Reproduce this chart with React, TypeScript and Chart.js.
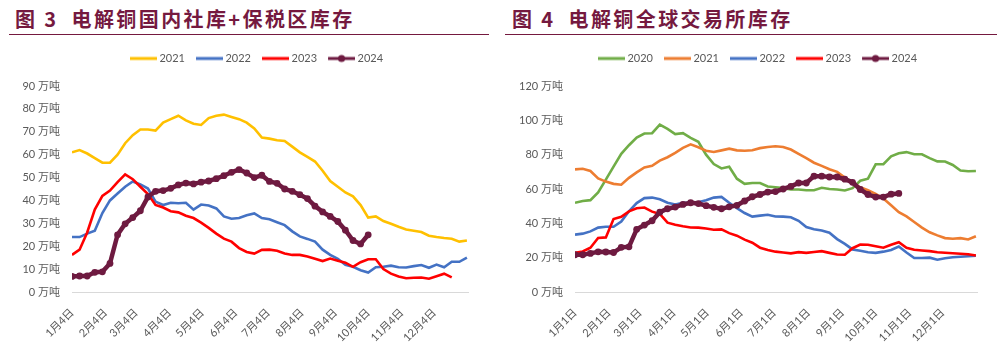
import React, { useEffect, useRef } from 'react';
import { Chart, registerables } from 'chart.js';

Chart.register(...registerables);

const FONT = 'Lato, "Noto Sans CJK SC", sans-serif';
const TITLE_COLOR = '#75193F';
const TICK_COLOR = '#595959';

// sample positions (days from the first day of the axis), weekly
const weekDays = [0, 7, 14, 21, 28, 35, 42, 49, 56, 63, 70, 77, 84, 91, 98, 105, 112, 119, 126, 133, 140, 147, 154, 161, 168, 175, 182, 189, 196, 203, 210, 217, 224, 231, 238, 245, 252, 259, 266, 273, 280, 287, 294, 301, 308, 315, 322, 329, 336, 343, 350, 357, 364];

// month tick positions (days from Jan 4 / Jan 1)
const monthDays = [0, 31, 59, 90, 120, 151, 181, 212, 243, 273, 304, 334];
const domTickLabels = ['1月4日', '2月4日', '3月4日', '4月4日', '5月4日', '6月4日', '7月4日', '8月4日', '9月4日', '10月4日', '11月4日', '12月4日'];
const globalTickLabels = ['1月1日', '2月1日', '3月1日', '4月1日', '5月1日', '6月1日', '7月1日', '8月1日', '9月1日', '10月1日', '11月1日', '12月1日'];

// 图3 电解铜国内社库+保税区库存 (万吨)
const dom2021 = [61, 62, 60.5, 58.5, 56.5, 56.5, 60, 65, 68.5, 71, 71, 70.5, 74, 75.5, 77, 75, 73.5, 73, 76, 77, 77.5, 76.5, 75.5, 74, 71.5, 67.5, 67, 66.3, 66, 63.5, 61, 59, 57, 53, 48.5, 46, 43.5, 41.8, 38, 32.5, 33, 31, 29.8, 28.5, 27.3, 26.8, 26.2, 24.6, 24, 23.6, 23.3, 22, 22.5];
const dom2022 = [24, 24, 25.5, 26.8, 34.5, 40, 43, 46, 48.3, 47, 45.2, 39.5, 38, 39, 38.8, 39, 36, 38.2, 37.8, 36.5, 33, 32, 32.3, 33.5, 34.3, 32.3, 31.8, 30.5, 29.2, 26.5, 24.3, 23.2, 22, 18.5, 16.2, 14.5, 11.9, 11, 9.5, 8.5, 10.8, 11, 11.5, 10.8, 10.7, 11.3, 11.8, 10.6, 12, 10.8, 13.2, 13.2, 15];
const dom2023 = [16.2, 18.5, 26, 36, 42, 44.3, 48, 51.4, 49.3, 46, 42.8, 38, 36.9, 35.3, 34.8, 33.3, 32.3, 30.3, 28, 25.5, 23.3, 22, 19.2, 17.5, 16.8, 18.4, 18.5, 18, 16.8, 16.2, 16.2, 15.5, 14.5, 13.5, 14.6, 13.7, 12.8, 11, 13, 14.3, 14.3, 10, 8, 6.8, 6, 6.2, 6.3, 5.8, 6.9, 8, 6.4];
const dom2024 = [6.8, 7, 7, 8.6, 8.8, 12.5, 25, 29.8, 32.5, 35.5, 41.5, 44, 44.3, 45.3, 46.8, 47.6, 47.2, 48, 48.5, 49.5, 50.8, 52.3, 53.5, 52, 50, 51, 48.3, 47.5, 45, 44, 42.5, 40.8, 37.5, 35, 33, 30.8, 27, 22.5, 21, 25];

// 图4 电解铜全球交易所库存 (万吨)
const glb2020 = [52, 53, 53.5, 58, 65.5, 73, 80.5, 85.5, 90, 92.3, 92.5, 97.5, 95, 92, 92.5, 89.8, 87.5, 80, 74.5, 72, 73, 66, 63, 63.5, 63.5, 61.5, 61, 60.5, 59.8, 59.7, 59.3, 59.3, 60.7, 60, 59.7, 59.1, 60.5, 64.8, 66, 74.4, 74.4, 79, 80.8, 81.5, 80.2, 80.2, 78, 76.1, 76, 74, 70.8, 70.3, 70.5];
const glb2021 = [71.4, 71.8, 70.5, 66.2, 64.3, 63, 62.5, 66.5, 69.7, 72.6, 73.5, 76.5, 78.5, 81, 84, 86, 84.3, 82.3, 81.6, 82.5, 83.5, 82.5, 82.3, 82.6, 83.8, 84.5, 84.9, 84.5, 83, 80.5, 78, 75.3, 73.5, 71.5, 70, 66.7, 63.5, 61, 59.3, 57.2, 54.5, 50.5, 46.5, 44, 40.8, 37.5, 34.8, 33, 31.4, 31, 31.4, 30.6, 32.5];
const glb2022 = [33.4, 34, 35.3, 37.5, 38, 38, 41, 47, 51.8, 54.7, 55, 54, 52, 51, 52, 52, 52.3, 53.5, 55, 55.4, 52, 48.8, 46, 43.9, 44.5, 45, 44, 43.9, 43.5, 41.5, 37.8, 36.6, 35.8, 34.5, 30.8, 28, 24.8, 24, 23.2, 22.8, 23.5, 24.5, 26.5, 23, 19.8, 19.8, 20, 18.8, 19.7, 20.2, 20.5, 20.8, 21.1];
const glb2023 = [22.8, 23.6, 25.8, 31.5, 31.8, 42.5, 43.8, 47, 48.8, 49.2, 46.8, 45.5, 40.4, 39.2, 38.3, 37.6, 37.5, 37, 36.3, 36.5, 34.3, 32.8, 30.5, 28.7, 25.8, 24.4, 23.5, 23, 22.5, 23.2, 22.8, 23.3, 23.8, 22.8, 21.8, 21.7, 25.5, 27.6, 27.5, 26.6, 25.8, 27.5, 29, 25.8, 24.6, 24.2, 23.8, 23.2, 22.9, 22.6, 22.3, 22, 21.3];
const glb2024 = [21.7, 21.7, 22.5, 23.4, 23.3, 23, 26, 26.3, 36.5, 39, 41.5, 46.5, 48.5, 49.5, 51, 52, 51.5, 50.3, 49.3, 48.5, 49.6, 50.5, 53, 55.5, 56.8, 58.2, 58.5, 60, 61.5, 63.5, 63.5, 67.5, 67.5, 67, 67, 65.7, 63.9, 59.7, 56.8, 55.3, 55.3, 57, 57.4];

type Series = { label: string; color: string; values: number[]; marker?: boolean };

const domSeries: Series[] = [
  { label: '2021', color: '#FFC000', values: dom2021 },
  { label: '2022', color: '#4472C4', values: dom2022 },
  { label: '2023', color: '#FF0000', values: dom2023 },
  { label: '2024', color: '#6E1A40', values: dom2024, marker: true },
];

const glbSeries: Series[] = [
  { label: '2020', color: '#70AD47', values: glb2020 },
  { label: '2021', color: '#ED7D31', values: glb2021 },
  { label: '2022', color: '#4472C4', values: glb2022 },
  { label: '2023', color: '#FF0000', values: glb2023 },
  { label: '2024', color: '#6E1A40', values: glb2024, marker: true },
];

function legendIcon(color: string, marker?: boolean): HTMLCanvasElement {
  const c = document.createElement('canvas');
  c.width = 33;
  c.height = 10;
  const ctx = c.getContext('2d')!;
  ctx.strokeStyle = color;
  ctx.lineWidth = 3;
  ctx.beginPath();
  ctx.moveTo(6, 5);
  ctx.lineTo(33, 5);
  ctx.stroke();
  if (marker) {
    ctx.fillStyle = color;
    ctx.beginPath();
    ctx.arc(19.5, 5, 3.6, 0, Math.PI * 2);
    ctx.fill();
  }
  return c;
}

type PanelProps = {
  series: Series[];
  yMax: number;
  yStep: number;
  tickLabels: string[];
  padLeft: number;
  padRight: number;
  legendShift: number;
};

function ChartPanel({ series, yMax, yStep, tickLabels, padLeft, padRight, legendShift }: PanelProps) {
  const ref = useRef<HTMLCanvasElement>(null);
  useEffect(() => {
    if (!ref.current) return;
    const datasets = series.map((s, i) => ({
      label: s.label,
      data: s.values.map((v, k) => ({ x: weekDays[k], y: v })),
      borderColor: s.color,
      backgroundColor: s.color,
      borderWidth: s.marker ? 4.5 : 2.6,
      pointRadius: s.marker ? 3.4 : 0,
      pointBorderWidth: 0,
      pointBackgroundColor: s.color,
      pointStyle: 'circle',
      tension: 0,
      order: series.length - i,
    }));
    const legendPlugin = {
      id: 'legendTweak',
      beforeInit(chart: any) {
        const fit = chart.legend.fit;
        chart.legend.fit = function () {
          fit.bind(chart.legend)();
          this.height += 12;
        };
      },
      afterLayout(chart: any) {
        chart.legend.left += legendShift;
        chart.legend.right += legendShift;
      },
    };
    const chart = new Chart(ref.current, {
      type: 'line',
      data: { datasets },
      plugins: [legendPlugin],
      options: {
        animation: false,
        responsive: false,
        maintainAspectRatio: false,
        layout: { padding: { left: padLeft, right: padRight, top: 5, bottom: 0 } },
        plugins: {
          tooltip: { enabled: false },
          legend: {
            position: 'top',
            labels: {
              usePointStyle: true,
              pointStyleWidth: 27,
              boxHeight: 10,
              padding: 8,
              color: TICK_COLOR,
              font: { family: FONT, size: 11 },
              sort: (a: any, b: any) => a.datasetIndex - b.datasetIndex,
              generateLabels: (chart: any) =>
                chart.data.datasets.map((d: any, i: number) => ({
                  text: d.label,
                  fillStyle: d.borderColor,
                  strokeStyle: d.borderColor,
                  lineWidth: 0,
                  pointStyle: legendIcon(series[i].color, series[i].marker),
                  datasetIndex: i,
                  hidden: false,
                  fontColor: TICK_COLOR,
                })),
            },
          },
        },
        scales: {
          x: {
            type: 'linear',
            min: 0,
            max: 365,
            grid: { display: false, drawTicks: false },
            border: { display: true, color: '#D9D9D9', width: 1 },
            afterBuildTicks: (scale: any) => {
              scale.ticks = monthDays.map((v) => ({ value: v }));
            },
            afterFit: (scale: any) => {
              scale.height = 66;
            },
            ticks: {
              autoSkip: false,
              minRotation: 45,
              maxRotation: 45,
              padding: 14,
              color: TICK_COLOR,
              font: { family: FONT, size: 11 },
              callback: (v: any) => {
                const idx = monthDays.indexOf(Number(v));
                return idx >= 0 ? tickLabels[idx] : '';
              },
            },
          },
          y: {
            min: 0,
            max: yMax,
            grid: { display: false, drawTicks: false },
            border: { display: false },
            afterFit: (scale: any) => {
              scale.width = 60;
            },
            ticks: {
              stepSize: yStep,
              padding: 12,
              color: TICK_COLOR,
              font: { family: FONT, size: 11 },
              callback: (v: any) => `${v} 万吨`,
            },
          },
        },
      },
    });
    return () => chart.destroy();
  }, []);
  return <canvas ref={ref} width={500} height={318} style={{ display: 'block' }} />;
}

const titleStyle: React.CSSProperties = {
  position: 'absolute',
  top: 5,
  height: 28,
  lineHeight: '28px',
  fontFamily: '"Noto Sans CJK SC", sans-serif',
  fontWeight: 700,
  fontSize: 20,
  letterSpacing: 2.4,
  color: TITLE_COLOR,
  whiteSpace: 'nowrap',
};

export default function App() {
  return (
    <div style={{ position: 'absolute', left: 0, top: 0, width: 1008, height: 358, background: '#fff', overflow: 'hidden' }}>
      <div style={{ ...titleStyle, left: 15 }}>
        <span>图 3</span>
        <span style={{ marginLeft: 13 }}>电解铜国内社库+保税区库存</span>
      </div>
      <div style={{ position: 'absolute', left: 9, top: 34, width: 480, height: 1, background: TITLE_COLOR }} />
      <div style={{ ...titleStyle, left: 512 }}>
        <span>图 4</span>
        <span style={{ marginLeft: 13 }}>电解铜全球交易所库存</span>
      </div>
      <div style={{ position: 'absolute', left: 505, top: 34, width: 492, height: 1, background: TITLE_COLOR }} />
      <div style={{ position: 'absolute', left: 0, top: 40, width: 500, height: 318 }}>
        <ChartPanel series={domSeries} yMax={90} yStep={10} tickLabels={domTickLabels} padLeft={12} padRight={32} legendShift={15} />
      </div>
      <div style={{ position: 'absolute', left: 500, top: 40, width: 508, height: 318 }}>
        <ChartPanel series={glbSeries} yMax={120} yStep={20} tickLabels={globalTickLabels} padLeft={15} padRight={23} legendShift={10} />
      </div>
    </div>
  );
}
